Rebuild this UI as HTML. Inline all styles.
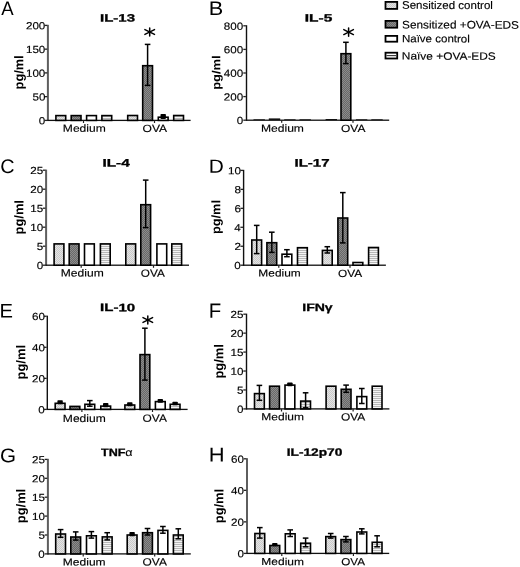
<!DOCTYPE html>
<html><head><meta charset="utf-8"><title>Cytokine panels</title>
<style>html,body{margin:0;padding:0;background:#fff;}body{width:520px;height:567px;overflow:hidden;font-family:"Liberation Sans", sans-serif;}svg{display:block;will-change:transform;filter:blur(0.3px);}</style></head>
<body>
<svg width="520" height="567" viewBox="0 0 520 567" font-family='"Liberation Sans", sans-serif'>
<defs>
<pattern id="p1" width="2" height="2" patternUnits="userSpaceOnUse"><rect width="2" height="2" fill="#e4e4e4"/><rect width="1" height="1" fill="#c9c9c9"/><rect x="1" y="1" width="1" height="1" fill="#c9c9c9"/></pattern>
<pattern id="p2" width="2" height="2" patternUnits="userSpaceOnUse"><rect width="2" height="2" fill="#686868"/><rect width="1" height="1" fill="#8c8c8c"/><rect x="1" y="1" width="1" height="1" fill="#8c8c8c"/></pattern>
<pattern id="p4" width="2" height="2" patternUnits="userSpaceOnUse"><rect width="2" height="2" fill="#f4f4f4"/><rect width="2" height="1" fill="#b8b8b8"/></pattern>
</defs>
<text transform="translate(1.25,15) rotate(0.08) scale(0.9487,1)" font-size="19.57" font-weight="400" fill="#000" >A</text>
<text transform="translate(100.05,21.5) rotate(0.08) scale(1.4157,1)" font-size="10.58" font-weight="700" fill="#000" stroke="#000" stroke-width="0.3">IL-13</text>
<rect x="46.9" y="24.8" width="2" height="96.2" fill="#5e5e5e"/>
<rect x="44.7" y="119.75" width="2.6" height="1.3" fill="#222"/>
<text transform="translate(38.84,124.25) rotate(0.08) scale(1.1324,1)" font-size="10.29" font-weight="400" fill="#000" stroke="#000" stroke-width="0.15">0</text>
<rect x="44.7" y="96" width="2.6" height="1.3" fill="#222"/>
<text transform="translate(32.44,100.5) rotate(0.08) scale(1.1324,1)" font-size="10.29" font-weight="400" fill="#000" stroke="#000" stroke-width="0.15">50</text>
<rect x="44.7" y="72.25" width="2.6" height="1.3" fill="#222"/>
<text transform="translate(25.91,76.75) rotate(0.08) scale(1.1324,1)" font-size="10.29" font-weight="400" fill="#000" stroke="#000" stroke-width="0.15">100</text>
<rect x="44.7" y="48.5" width="2.6" height="1.3" fill="#222"/>
<text transform="translate(25.91,53) rotate(0.08) scale(1.1324,1)" font-size="10.29" font-weight="400" fill="#000" stroke="#000" stroke-width="0.15">150</text>
<rect x="44.7" y="24.75" width="2.6" height="1.3" fill="#222"/>
<text transform="translate(25.91,29.25) rotate(0.08) scale(1.1324,1)" font-size="10.29" font-weight="400" fill="#000" stroke="#000" stroke-width="0.15">200</text>
<rect x="47.2" y="119.75" width="143.4" height="1.3" fill="#111"/>
<rect x="82.9" y="120.4" width="1.2" height="2.6" fill="#222"/>
<rect x="153.9" y="120.4" width="1.2" height="2.6" fill="#222"/>
<rect x="55.9" y="115.6" width="9.8" height="4.8" fill="url(#p1)" stroke="#000" stroke-width="1.6"/>
<rect x="71.2" y="115.6" width="9.8" height="4.8" fill="url(#p2)" stroke="#000" stroke-width="1.6"/>
<rect x="86.6" y="115.6" width="9.8" height="4.8" fill="#fff" stroke="#000" stroke-width="1.6"/>
<rect x="101.9" y="115.6" width="9.8" height="4.8" fill="url(#p4)" stroke="#000" stroke-width="1.6"/>
<rect x="127.7" y="115.5" width="9.8" height="4.9" fill="url(#p1)" stroke="#000" stroke-width="1.6"/>
<rect x="142.7" y="65.7" width="9.8" height="54.7" fill="url(#p2)" stroke="#000" stroke-width="1.6"/>
<rect x="158.3" y="117.2" width="9.8" height="3.2" fill="#fff" stroke="#000" stroke-width="1.6"/>
<rect x="173.7" y="115.5" width="9.8" height="4.9" fill="url(#p4)" stroke="#000" stroke-width="1.6"/>
<g stroke="#000" stroke-width="1.5"><line x1="147.6" y1="44.4" x2="147.6" y2="85.4"/><line x1="144.8" y1="44.4" x2="150.4" y2="44.4"/><line x1="144.8" y1="85.4" x2="150.4" y2="85.4"/></g>
<rect x="160.5" y="114" width="5.4" height="5" rx="0.8" fill="#000"/>
<text transform="translate(62.83,131.7) rotate(0.08) scale(1.1742,1)" font-size="10.29" font-weight="400" fill="#000" stroke="#000" stroke-width="0.15">Medium</text>
<text transform="translate(142.6,132.1) rotate(0.08) scale(1.1568,1)" font-size="10.43" font-weight="400" fill="#000" stroke="#000" stroke-width="0.15">OVA</text>
<g stroke="#000" stroke-width="1.5" stroke-linecap="round"><line x1="149.7" y1="27.9" x2="149.7" y2="36.1"/><line x1="144.9" y1="29.55" x2="154.5" y2="34.45"/><line x1="144.9" y1="34.45" x2="154.5" y2="29.55"/></g>
<text transform="translate(23.14,89.39) rotate(-89.92) scale(1.0093,1)" font-size="12.66" font-weight="700" fill="#000">pg/ml</text>
<text transform="translate(208.66,15.1) rotate(0.08) scale(1.1009,1)" font-size="19.71" font-weight="400" fill="#000" >B</text>
<text transform="translate(304.71,21.5) rotate(0.08) scale(1.4684,1)" font-size="10.58" font-weight="700" fill="#000" stroke="#000" stroke-width="0.3">IL-5</text>
<rect x="245.8" y="25.2" width="1.4" height="95.6" fill="#111"/>
<rect x="243.3" y="119.55" width="2.6" height="1.3" fill="#222"/>
<text transform="translate(236.64,124.05) rotate(0.08) scale(1.1324,1)" font-size="10.29" font-weight="400" fill="#000" stroke="#000" stroke-width="0.15">0</text>
<rect x="243.3" y="95.95" width="2.6" height="1.3" fill="#222"/>
<text transform="translate(223.71,100.45) rotate(0.08) scale(1.1324,1)" font-size="10.29" font-weight="400" fill="#000" stroke="#000" stroke-width="0.15">200</text>
<rect x="243.3" y="72.35" width="2.6" height="1.3" fill="#222"/>
<text transform="translate(223.71,76.85) rotate(0.08) scale(1.1324,1)" font-size="10.29" font-weight="400" fill="#000" stroke="#000" stroke-width="0.15">400</text>
<rect x="243.3" y="48.75" width="2.6" height="1.3" fill="#222"/>
<text transform="translate(223.71,53.25) rotate(0.08) scale(1.1324,1)" font-size="10.29" font-weight="400" fill="#000" stroke="#000" stroke-width="0.15">600</text>
<rect x="243.3" y="25.15" width="2.6" height="1.3" fill="#222"/>
<text transform="translate(223.71,29.65) rotate(0.08) scale(1.1324,1)" font-size="10.29" font-weight="400" fill="#000" stroke="#000" stroke-width="0.15">800</text>
<rect x="245.8" y="119.55" width="143.4" height="1.3" fill="#111"/>
<rect x="281.1" y="120.2" width="1.2" height="2.6" fill="#222"/>
<rect x="352.4" y="120.2" width="1.2" height="2.6" fill="#222"/>
<rect x="253.5" y="119.3" width="11.4" height="0.9" fill="#111"/>
<rect x="268.8" y="118.4" width="11.4" height="1.8" fill="#111"/>
<rect x="284.2" y="119.3" width="11.4" height="0.9" fill="#111"/>
<rect x="299.5" y="119.3" width="11.4" height="0.9" fill="#111"/>
<rect x="325.6" y="119" width="11.4" height="1.2" fill="#111"/>
<rect x="341" y="53.7" width="9.8" height="66.5" fill="url(#p2)" stroke="#000" stroke-width="1.6"/>
<rect x="355.9" y="119.3" width="11.4" height="0.9" fill="#111"/>
<rect x="371.3" y="119.3" width="11.4" height="0.9" fill="#111"/>
<g stroke="#000" stroke-width="1.5"><line x1="345.9" y1="42.3" x2="345.9" y2="63.6"/><line x1="343.1" y1="42.3" x2="348.7" y2="42.3"/><line x1="343.1" y1="63.6" x2="348.7" y2="63.6"/></g>
<text transform="translate(260.93,131.7) rotate(0.08) scale(1.1770,1)" font-size="10.29" font-weight="400" fill="#000" stroke="#000" stroke-width="0.15">Medium</text>
<text transform="translate(341,132.1) rotate(0.08) scale(1.1471,1)" font-size="10.43" font-weight="400" fill="#000" stroke="#000" stroke-width="0.15">OVA</text>
<g stroke="#000" stroke-width="1.5" stroke-linecap="round"><line x1="348.6" y1="28" x2="348.6" y2="36.2"/><line x1="343.8" y1="29.65" x2="353.4" y2="34.55"/><line x1="343.8" y1="34.55" x2="353.4" y2="29.65"/></g>
<text transform="translate(220.16,89.81) rotate(-89.92) scale(1.1156,1)" font-size="11.6" font-weight="700" fill="#000">pg/ml</text>
<text transform="translate(0.26,173.1) rotate(0.08) scale(1.0138,1)" font-size="19.57" font-weight="400" fill="#000" >C</text>
<text transform="translate(102.43,166.4) rotate(0.08) scale(1.4125,1)" font-size="10.87" font-weight="700" fill="#000" stroke="#000" stroke-width="0.3">IL-4</text>
<rect x="45.1" y="169.6" width="2" height="96.2" fill="#5e5e5e"/>
<rect x="42.9" y="264.55" width="2.6" height="1.3" fill="#222"/>
<text transform="translate(36.74,269.05) rotate(0.08) scale(1.1324,1)" font-size="10.29" font-weight="400" fill="#000" stroke="#000" stroke-width="0.15">0</text>
<rect x="42.9" y="245.55" width="2.6" height="1.3" fill="#222"/>
<text transform="translate(36.86,250.05) rotate(0.08) scale(1.1324,1)" font-size="10.29" font-weight="400" fill="#000" stroke="#000" stroke-width="0.15">5</text>
<rect x="42.9" y="226.55" width="2.6" height="1.3" fill="#222"/>
<text transform="translate(30.34,231.05) rotate(0.08) scale(1.1324,1)" font-size="10.29" font-weight="400" fill="#000" stroke="#000" stroke-width="0.15">10</text>
<rect x="42.9" y="207.55" width="2.6" height="1.3" fill="#222"/>
<text transform="translate(30.34,212.05) rotate(0.08) scale(1.1324,1)" font-size="10.29" font-weight="400" fill="#000" stroke="#000" stroke-width="0.15">15</text>
<rect x="42.9" y="188.55" width="2.6" height="1.3" fill="#222"/>
<text transform="translate(30.34,193.05) rotate(0.08) scale(1.1324,1)" font-size="10.29" font-weight="400" fill="#000" stroke="#000" stroke-width="0.15">20</text>
<rect x="42.9" y="169.55" width="2.6" height="1.3" fill="#222"/>
<text transform="translate(30.34,174.05) rotate(0.08) scale(1.1324,1)" font-size="10.29" font-weight="400" fill="#000" stroke="#000" stroke-width="0.15">25</text>
<rect x="45.4" y="264.55" width="143.6" height="1.3" fill="#111"/>
<rect x="80.6" y="265.2" width="1.2" height="2.6" fill="#222"/>
<rect x="152.9" y="265.2" width="1.2" height="2.6" fill="#222"/>
<rect x="54.1" y="243.9" width="9.8" height="21.3" fill="url(#p1)" stroke="#000" stroke-width="1.6"/>
<rect x="69.2" y="243.9" width="9.8" height="21.3" fill="url(#p2)" stroke="#000" stroke-width="1.6"/>
<rect x="84.5" y="243.9" width="9.8" height="21.3" fill="#fff" stroke="#000" stroke-width="1.6"/>
<rect x="100.4" y="243.9" width="9.8" height="21.3" fill="url(#p4)" stroke="#000" stroke-width="1.6"/>
<rect x="125.8" y="243.9" width="9.8" height="21.3" fill="url(#p1)" stroke="#000" stroke-width="1.6"/>
<rect x="140.8" y="204.7" width="9.8" height="60.5" fill="url(#p2)" stroke="#000" stroke-width="1.6"/>
<rect x="156.9" y="243.9" width="9.8" height="21.3" fill="#fff" stroke="#000" stroke-width="1.6"/>
<rect x="171.8" y="243.9" width="9.8" height="21.3" fill="url(#p4)" stroke="#000" stroke-width="1.6"/>
<g stroke="#000" stroke-width="1.5"><line x1="145.7" y1="180.1" x2="145.7" y2="227.6"/><line x1="142.9" y1="180.1" x2="148.5" y2="180.1"/><line x1="142.9" y1="227.6" x2="148.5" y2="227.6"/></g>
<text transform="translate(60.83,276.5) rotate(0.08) scale(1.1579,1)" font-size="10.43" font-weight="400" fill="#000" stroke="#000" stroke-width="0.15">Medium</text>
<text transform="translate(140.81,276.7) rotate(0.08) scale(1.1277,1)" font-size="10.43" font-weight="400" fill="#000" stroke="#000" stroke-width="0.15">OVA</text>
<text transform="translate(23.34,234.4) rotate(-89.92) scale(1.0187,1)" font-size="12.66" font-weight="700" fill="#000">pg/ml</text>
<text transform="translate(208.73,172.7) rotate(0.08) scale(1.0981,1)" font-size="18.99" font-weight="400" fill="#000" >D</text>
<text transform="translate(294.45,166.4) rotate(0.08) scale(1.3841,1)" font-size="10.87" font-weight="700" fill="#000" stroke="#000" stroke-width="0.3">IL-17</text>
<rect x="242.9" y="169.8" width="1.4" height="96" fill="#111"/>
<rect x="240.4" y="264.55" width="2.6" height="1.3" fill="#222"/>
<text transform="translate(234.34,269.05) rotate(0.08) scale(1.1324,1)" font-size="10.29" font-weight="400" fill="#000" stroke="#000" stroke-width="0.15">0</text>
<rect x="240.4" y="245.59" width="2.6" height="1.3" fill="#222"/>
<text transform="translate(234.46,250.09) rotate(0.08) scale(1.1324,1)" font-size="10.29" font-weight="400" fill="#000" stroke="#000" stroke-width="0.15">2</text>
<rect x="240.4" y="226.63" width="2.6" height="1.3" fill="#222"/>
<text transform="translate(234.23,231.13) rotate(0.08) scale(1.1324,1)" font-size="10.29" font-weight="400" fill="#000" stroke="#000" stroke-width="0.15">4</text>
<rect x="240.4" y="207.67" width="2.6" height="1.3" fill="#222"/>
<text transform="translate(234.46,212.17) rotate(0.08) scale(1.1324,1)" font-size="10.29" font-weight="400" fill="#000" stroke="#000" stroke-width="0.15">6</text>
<rect x="240.4" y="188.71" width="2.6" height="1.3" fill="#222"/>
<text transform="translate(234.46,193.21) rotate(0.08) scale(1.1324,1)" font-size="10.29" font-weight="400" fill="#000" stroke="#000" stroke-width="0.15">8</text>
<rect x="240.4" y="169.75" width="2.6" height="1.3" fill="#222"/>
<text transform="translate(227.94,174.25) rotate(0.08) scale(1.1324,1)" font-size="10.29" font-weight="400" fill="#000" stroke="#000" stroke-width="0.15">10</text>
<rect x="242.9" y="264.55" width="143" height="1.3" fill="#111"/>
<rect x="278.2" y="265.2" width="1.2" height="2.6" fill="#222"/>
<rect x="349.4" y="265.2" width="1.2" height="2.6" fill="#222"/>
<rect x="251.8" y="240" width="9.8" height="25.2" fill="url(#p1)" stroke="#000" stroke-width="1.6"/>
<rect x="266.9" y="242.7" width="9.8" height="22.5" fill="url(#p2)" stroke="#000" stroke-width="1.6"/>
<rect x="282" y="254.2" width="9.8" height="11" fill="#fff" stroke="#000" stroke-width="1.6"/>
<rect x="297.5" y="247.7" width="9.8" height="17.5" fill="url(#p4)" stroke="#000" stroke-width="1.6"/>
<rect x="322.4" y="250.4" width="9.8" height="14.8" fill="url(#p1)" stroke="#000" stroke-width="1.6"/>
<rect x="337.9" y="218" width="9.8" height="47.2" fill="url(#p2)" stroke="#000" stroke-width="1.6"/>
<rect x="353" y="262.5" width="9.8" height="2.7" fill="#fff" stroke="#000" stroke-width="1.6"/>
<rect x="368.6" y="247.5" width="9.8" height="17.7" fill="url(#p4)" stroke="#000" stroke-width="1.6"/>
<g stroke="#000" stroke-width="1.5"><line x1="256.7" y1="225.4" x2="256.7" y2="253.6"/><line x1="253.9" y1="225.4" x2="259.5" y2="225.4"/><line x1="253.9" y1="253.6" x2="259.5" y2="253.6"/></g>
<g stroke="#000" stroke-width="1.5"><line x1="271.8" y1="232.2" x2="271.8" y2="252.4"/><line x1="269" y1="232.2" x2="274.6" y2="232.2"/><line x1="269" y1="252.4" x2="274.6" y2="252.4"/></g>
<g stroke="#000" stroke-width="1.5"><line x1="286.9" y1="249.7" x2="286.9" y2="256.7"/><line x1="284.1" y1="249.7" x2="289.7" y2="249.7"/><line x1="284.1" y1="256.7" x2="289.7" y2="256.7"/></g>
<g stroke="#000" stroke-width="1.5"><line x1="327.3" y1="246.7" x2="327.3" y2="253"/><line x1="324.5" y1="246.7" x2="330.1" y2="246.7"/><line x1="324.5" y1="253" x2="330.1" y2="253"/></g>
<g stroke="#000" stroke-width="1.5"><line x1="342.8" y1="192.6" x2="342.8" y2="242.9"/><line x1="340" y1="192.6" x2="345.6" y2="192.6"/><line x1="340" y1="242.9" x2="345.6" y2="242.9"/></g>
<text transform="translate(258.35,276.5) rotate(0.08) scale(1.1765,1)" font-size="10.14" font-weight="400" fill="#000" stroke="#000" stroke-width="0.15">Medium</text>
<text transform="translate(337.91,277) rotate(0.08) scale(1.1374,1)" font-size="10.43" font-weight="400" fill="#000" stroke="#000" stroke-width="0.15">OVA</text>
<text transform="translate(220.31,233.99) rotate(-89.92) scale(1.0322,1)" font-size="12.34" font-weight="700" fill="#000">pg/ml</text>
<text transform="translate(-0.61,317.5) rotate(0.08) scale(1.0317,1)" font-size="19.57" font-weight="400" fill="#000" >E</text>
<text transform="translate(100.05,311.1) rotate(0.08) scale(1.3841,1)" font-size="10.87" font-weight="700" fill="#000" stroke="#000" stroke-width="0.3">IL-10</text>
<rect x="46.6" y="315.65" width="1.4" height="94.35" fill="#111"/>
<rect x="44.1" y="408.75" width="2.6" height="1.3" fill="#222"/>
<text transform="translate(38.34,413.25) rotate(0.08) scale(1.1324,1)" font-size="10.29" font-weight="400" fill="#000" stroke="#000" stroke-width="0.15">0</text>
<rect x="44.1" y="377.7" width="2.6" height="1.3" fill="#222"/>
<text transform="translate(31.94,382.2) rotate(0.08) scale(1.1324,1)" font-size="10.29" font-weight="400" fill="#000" stroke="#000" stroke-width="0.15">20</text>
<rect x="44.1" y="346.65" width="2.6" height="1.3" fill="#222"/>
<text transform="translate(31.94,351.15) rotate(0.08) scale(1.1324,1)" font-size="10.29" font-weight="400" fill="#000" stroke="#000" stroke-width="0.15">40</text>
<rect x="44.1" y="315.6" width="2.6" height="1.3" fill="#222"/>
<text transform="translate(31.94,320.1) rotate(0.08) scale(1.1324,1)" font-size="10.29" font-weight="400" fill="#000" stroke="#000" stroke-width="0.15">60</text>
<rect x="46.6" y="408.75" width="141" height="1.3" fill="#111"/>
<rect x="81.3" y="409.4" width="1.2" height="2.6" fill="#222"/>
<rect x="151.9" y="409.4" width="1.2" height="2.6" fill="#222"/>
<rect x="55.2" y="403.3" width="9.8" height="6.1" fill="url(#p1)" stroke="#000" stroke-width="1.6"/>
<rect x="70" y="406.4" width="9.8" height="3" fill="url(#p2)" stroke="#000" stroke-width="1.6"/>
<rect x="84.9" y="404.3" width="9.8" height="5.1" fill="#fff" stroke="#000" stroke-width="1.6"/>
<rect x="100.8" y="406.1" width="9.8" height="3.3" fill="url(#p4)" stroke="#000" stroke-width="1.6"/>
<rect x="124.9" y="405" width="9.8" height="4.4" fill="url(#p1)" stroke="#000" stroke-width="1.6"/>
<rect x="140" y="354.6" width="9.8" height="54.8" fill="url(#p2)" stroke="#000" stroke-width="1.6"/>
<rect x="155.4" y="401.6" width="9.8" height="7.8" fill="#fff" stroke="#000" stroke-width="1.6"/>
<rect x="170.2" y="404.3" width="9.8" height="5.1" fill="url(#p4)" stroke="#000" stroke-width="1.6"/>
<rect x="57.4" y="400.3" width="5.4" height="3.9" rx="0.8" fill="#000"/>
<g stroke="#000" stroke-width="1.5"><line x1="89.8" y1="400.6" x2="89.8" y2="406.2"/><line x1="87" y1="400.6" x2="92.6" y2="400.6"/><line x1="87" y1="406.2" x2="92.6" y2="406.2"/></g>
<rect x="103" y="402.9" width="5.4" height="4.3" rx="0.8" fill="#000"/>
<rect x="127.1" y="402.3" width="5.4" height="3.9" rx="0.8" fill="#000"/>
<g stroke="#000" stroke-width="1.5"><line x1="144.9" y1="328.2" x2="144.9" y2="380.1"/><line x1="142.1" y1="328.2" x2="147.7" y2="328.2"/><line x1="142.1" y1="380.1" x2="147.7" y2="380.1"/></g>
<rect x="157.6" y="398.9" width="5.4" height="3.8" rx="0.8" fill="#000"/>
<rect x="172.4" y="401.7" width="5.4" height="3.6" rx="0.8" fill="#000"/>
<text transform="translate(62.83,421.9) rotate(0.08) scale(1.1420,1)" font-size="10.58" font-weight="400" fill="#000" stroke="#000" stroke-width="0.15">Medium</text>
<text transform="translate(142.6,421.8) rotate(0.08) scale(1.1423,1)" font-size="10.43" font-weight="400" fill="#000" stroke="#000" stroke-width="0.15">OVA</text>
<g stroke="#000" stroke-width="1.5" stroke-linecap="round"><line x1="147.8" y1="315.9" x2="147.8" y2="324.1"/><line x1="143" y1="317.55" x2="152.6" y2="322.45"/><line x1="143" y1="322.45" x2="152.6" y2="317.55"/></g>
<text transform="translate(25.32,379.4) rotate(-89.92) scale(1.0103,1)" font-size="12.77" font-weight="700" fill="#000">pg/ml</text>
<text transform="translate(208.77,317.7) rotate(0.08) scale(0.9917,1)" font-size="20.58" font-weight="400" fill="#000" >F</text>
<text transform="translate(302.22,311) rotate(0.08) scale(1.3117,1)" font-size="10.72" font-weight="700" fill="#000" stroke="#000" stroke-width="0.3">IFNγ</text>
<rect x="245.8" y="313.6" width="1.4" height="95.9" fill="#111"/>
<rect x="243.3" y="408.25" width="2.6" height="1.3" fill="#222"/>
<text transform="translate(236.94,412.75) rotate(0.08) scale(1.1324,1)" font-size="10.29" font-weight="400" fill="#000" stroke="#000" stroke-width="0.15">0</text>
<rect x="243.3" y="389.31" width="2.6" height="1.3" fill="#222"/>
<text transform="translate(237.06,393.81) rotate(0.08) scale(1.1324,1)" font-size="10.29" font-weight="400" fill="#000" stroke="#000" stroke-width="0.15">5</text>
<rect x="243.3" y="370.37" width="2.6" height="1.3" fill="#222"/>
<text transform="translate(230.54,374.87) rotate(0.08) scale(1.1324,1)" font-size="10.29" font-weight="400" fill="#000" stroke="#000" stroke-width="0.15">10</text>
<rect x="243.3" y="351.43" width="2.6" height="1.3" fill="#222"/>
<text transform="translate(230.54,355.93) rotate(0.08) scale(1.1324,1)" font-size="10.29" font-weight="400" fill="#000" stroke="#000" stroke-width="0.15">15</text>
<rect x="243.3" y="332.49" width="2.6" height="1.3" fill="#222"/>
<text transform="translate(230.54,336.99) rotate(0.08) scale(1.1324,1)" font-size="10.29" font-weight="400" fill="#000" stroke="#000" stroke-width="0.15">20</text>
<rect x="243.3" y="313.55" width="2.6" height="1.3" fill="#222"/>
<text transform="translate(230.54,318.05) rotate(0.08) scale(1.1324,1)" font-size="10.29" font-weight="400" fill="#000" stroke="#000" stroke-width="0.15">25</text>
<rect x="245.8" y="408.25" width="143.6" height="1.3" fill="#111"/>
<rect x="280.9" y="408.9" width="1.2" height="2.6" fill="#222"/>
<rect x="352.5" y="408.9" width="1.2" height="2.6" fill="#222"/>
<rect x="254.5" y="393.6" width="9.8" height="15.3" fill="url(#p1)" stroke="#000" stroke-width="1.6"/>
<rect x="269.6" y="386.2" width="9.8" height="22.7" fill="url(#p2)" stroke="#000" stroke-width="1.6"/>
<rect x="285" y="385.1" width="9.8" height="23.8" fill="#fff" stroke="#000" stroke-width="1.6"/>
<rect x="300.7" y="401.1" width="9.8" height="7.8" fill="url(#p4)" stroke="#000" stroke-width="1.6"/>
<rect x="326.1" y="386.2" width="9.8" height="22.7" fill="url(#p1)" stroke="#000" stroke-width="1.6"/>
<rect x="341.2" y="389.3" width="9.8" height="19.6" fill="url(#p2)" stroke="#000" stroke-width="1.6"/>
<rect x="356.9" y="396.6" width="9.8" height="12.3" fill="#fff" stroke="#000" stroke-width="1.6"/>
<rect x="372.2" y="386.2" width="9.8" height="22.7" fill="url(#p4)" stroke="#000" stroke-width="1.6"/>
<g stroke="#000" stroke-width="1.5"><line x1="259.4" y1="385.4" x2="259.4" y2="400.3"/><line x1="256.6" y1="385.4" x2="262.2" y2="385.4"/><line x1="256.6" y1="400.3" x2="262.2" y2="400.3"/></g>
<rect x="287.2" y="382.4" width="5.4" height="3.8" rx="0.8" fill="#000"/>
<g stroke="#000" stroke-width="1.5"><line x1="305.6" y1="392.8" x2="305.6" y2="407.8"/><line x1="302.8" y1="392.8" x2="308.4" y2="392.8"/><line x1="302.8" y1="407.8" x2="308.4" y2="407.8"/></g>
<g stroke="#000" stroke-width="1.5"><line x1="346.1" y1="385.1" x2="346.1" y2="392.3"/><line x1="343.3" y1="385.1" x2="348.9" y2="385.1"/><line x1="343.3" y1="392.3" x2="348.9" y2="392.3"/></g>
<g stroke="#000" stroke-width="1.5"><line x1="361.8" y1="388.5" x2="361.8" y2="403.5"/><line x1="359" y1="388.5" x2="364.6" y2="388.5"/><line x1="359" y1="403.5" x2="364.6" y2="403.5"/></g>
<text transform="translate(261.34,420.3) rotate(0.08) scale(1.1656,1)" font-size="10.29" font-weight="400" fill="#000" stroke="#000" stroke-width="0.15">Medium</text>
<text transform="translate(340.9,420.4) rotate(0.08) scale(1.1423,1)" font-size="10.43" font-weight="400" fill="#000" stroke="#000" stroke-width="0.15">OVA</text>
<text transform="translate(223.3,378.6) rotate(-89.92) scale(1.0019,1)" font-size="12.87" font-weight="700" fill="#000">pg/ml</text>
<text transform="translate(-0.03,462.25) rotate(0.08) scale(1.0495,1)" font-size="19.64" font-weight="400" fill="#000" >G</text>
<text transform="translate(100.97,455.9) rotate(0.08) scale(1.1710,1)" font-size="10.72" font-weight="700" fill="#000" stroke="#000" stroke-width="0.3">TNF<tspan font-weight="400" stroke-width="0.15">α</tspan></text>
<rect x="46.9" y="458.8" width="2" height="95.7" fill="#5e5e5e"/>
<rect x="44.7" y="553.25" width="2.6" height="1.3" fill="#222"/>
<text transform="translate(38.34,557.75) rotate(0.08) scale(1.1324,1)" font-size="10.29" font-weight="400" fill="#000" stroke="#000" stroke-width="0.15">0</text>
<rect x="44.7" y="534.35" width="2.6" height="1.3" fill="#222"/>
<text transform="translate(38.46,538.85) rotate(0.08) scale(1.1324,1)" font-size="10.29" font-weight="400" fill="#000" stroke="#000" stroke-width="0.15">5</text>
<rect x="44.7" y="515.45" width="2.6" height="1.3" fill="#222"/>
<text transform="translate(31.94,519.95) rotate(0.08) scale(1.1324,1)" font-size="10.29" font-weight="400" fill="#000" stroke="#000" stroke-width="0.15">10</text>
<rect x="44.7" y="496.55" width="2.6" height="1.3" fill="#222"/>
<text transform="translate(31.94,501.05) rotate(0.08) scale(1.1324,1)" font-size="10.29" font-weight="400" fill="#000" stroke="#000" stroke-width="0.15">15</text>
<rect x="44.7" y="477.65" width="2.6" height="1.3" fill="#222"/>
<text transform="translate(31.94,482.15) rotate(0.08) scale(1.1324,1)" font-size="10.29" font-weight="400" fill="#000" stroke="#000" stroke-width="0.15">20</text>
<rect x="44.7" y="458.75" width="2.6" height="1.3" fill="#222"/>
<text transform="translate(31.94,463.25) rotate(0.08) scale(1.1324,1)" font-size="10.29" font-weight="400" fill="#000" stroke="#000" stroke-width="0.15">25</text>
<rect x="47.2" y="553.25" width="143.6" height="1.3" fill="#111"/>
<rect x="82.6" y="553.9" width="1.2" height="2.6" fill="#222"/>
<rect x="154.1" y="553.9" width="1.2" height="2.6" fill="#222"/>
<rect x="55.7" y="534" width="9.8" height="19.9" fill="url(#p1)" stroke="#000" stroke-width="1.6"/>
<rect x="70.8" y="537" width="9.8" height="16.9" fill="url(#p2)" stroke="#000" stroke-width="1.6"/>
<rect x="86.5" y="535.8" width="9.8" height="18.1" fill="#fff" stroke="#000" stroke-width="1.6"/>
<rect x="102.3" y="536.9" width="9.8" height="17" fill="url(#p4)" stroke="#000" stroke-width="1.6"/>
<rect x="127.2" y="535" width="9.8" height="18.9" fill="url(#p1)" stroke="#000" stroke-width="1.6"/>
<rect x="142.6" y="532.7" width="9.8" height="21.2" fill="url(#p2)" stroke="#000" stroke-width="1.6"/>
<rect x="158" y="530.4" width="9.8" height="23.5" fill="#fff" stroke="#000" stroke-width="1.6"/>
<rect x="173.4" y="535" width="9.8" height="18.9" fill="url(#p4)" stroke="#000" stroke-width="1.6"/>
<g stroke="#000" stroke-width="1.5"><line x1="60.6" y1="529.6" x2="60.6" y2="537.3"/><line x1="57.8" y1="529.6" x2="63.4" y2="529.6"/><line x1="57.8" y1="537.3" x2="63.4" y2="537.3"/></g>
<g stroke="#000" stroke-width="1.5"><line x1="75.7" y1="531.9" x2="75.7" y2="540.1"/><line x1="72.9" y1="531.9" x2="78.5" y2="531.9"/><line x1="72.9" y1="540.1" x2="78.5" y2="540.1"/></g>
<g stroke="#000" stroke-width="1.5"><line x1="91.4" y1="531.6" x2="91.4" y2="538.1"/><line x1="88.6" y1="531.6" x2="94.2" y2="531.6"/><line x1="88.6" y1="538.1" x2="94.2" y2="538.1"/></g>
<g stroke="#000" stroke-width="1.5"><line x1="107.2" y1="532.7" x2="107.2" y2="539.9"/><line x1="104.4" y1="532.7" x2="110" y2="532.7"/><line x1="104.4" y1="539.9" x2="110" y2="539.9"/></g>
<rect x="129.4" y="532" width="5.4" height="4.2" rx="0.8" fill="#000"/>
<g stroke="#000" stroke-width="1.5"><line x1="147.5" y1="528.5" x2="147.5" y2="535"/><line x1="144.7" y1="528.5" x2="150.3" y2="528.5"/><line x1="144.7" y1="535" x2="150.3" y2="535"/></g>
<g stroke="#000" stroke-width="1.5"><line x1="162.9" y1="526.5" x2="162.9" y2="533.2"/><line x1="160.1" y1="526.5" x2="165.7" y2="526.5"/><line x1="160.1" y1="533.2" x2="165.7" y2="533.2"/></g>
<g stroke="#000" stroke-width="1.5"><line x1="178.3" y1="528.8" x2="178.3" y2="538.8"/><line x1="175.5" y1="528.8" x2="181.1" y2="528.8"/><line x1="175.5" y1="538.8" x2="181.1" y2="538.8"/></g>
<text transform="translate(62.84,565.5) rotate(0.08) scale(1.1881,1)" font-size="10.14" font-weight="400" fill="#000" stroke="#000" stroke-width="0.15">Medium</text>
<text transform="translate(142.6,565.4) rotate(0.08) scale(1.1423,1)" font-size="10.43" font-weight="400" fill="#000" stroke="#000" stroke-width="0.15">OVA</text>
<text transform="translate(25.32,523.2) rotate(-89.92) scale(1.0103,1)" font-size="12.77" font-weight="700" fill="#000">pg/ml</text>
<text transform="translate(208.64,461.5) rotate(0.08) scale(1.0982,1)" font-size="20" font-weight="400" fill="#000" >H</text>
<text transform="translate(286.74,455.8) rotate(0.08) scale(1.2803,1)" font-size="10.72" font-weight="700" fill="#000" stroke="#000" stroke-width="0.3">IL-12p70</text>
<rect x="246" y="458.2" width="2" height="95.8" fill="#5e5e5e"/>
<rect x="243.8" y="552.75" width="2.6" height="1.3" fill="#222"/>
<text transform="translate(237.44,557.25) rotate(0.08) scale(1.1324,1)" font-size="10.29" font-weight="400" fill="#000" stroke="#000" stroke-width="0.15">0</text>
<rect x="243.8" y="521.22" width="2.6" height="1.3" fill="#222"/>
<text transform="translate(231.04,525.72) rotate(0.08) scale(1.1324,1)" font-size="10.29" font-weight="400" fill="#000" stroke="#000" stroke-width="0.15">20</text>
<rect x="243.8" y="489.68" width="2.6" height="1.3" fill="#222"/>
<text transform="translate(231.04,494.18) rotate(0.08) scale(1.1324,1)" font-size="10.29" font-weight="400" fill="#000" stroke="#000" stroke-width="0.15">40</text>
<rect x="243.8" y="458.15" width="2.6" height="1.3" fill="#222"/>
<text transform="translate(231.04,462.65) rotate(0.08) scale(1.1324,1)" font-size="10.29" font-weight="400" fill="#000" stroke="#000" stroke-width="0.15">60</text>
<rect x="246.3" y="552.75" width="142.9" height="1.3" fill="#111"/>
<rect x="281.2" y="553.4" width="1.2" height="2.6" fill="#222"/>
<rect x="352.8" y="553.4" width="1.2" height="2.6" fill="#222"/>
<rect x="254.9" y="533.5" width="9.8" height="19.9" fill="url(#p1)" stroke="#000" stroke-width="1.6"/>
<rect x="269.9" y="545.5" width="9.8" height="7.9" fill="url(#p2)" stroke="#000" stroke-width="1.6"/>
<rect x="285.3" y="533.8" width="9.8" height="19.6" fill="#fff" stroke="#000" stroke-width="1.6"/>
<rect x="300.7" y="543.2" width="9.8" height="10.2" fill="url(#p4)" stroke="#000" stroke-width="1.6"/>
<rect x="325.8" y="536.6" width="9.8" height="16.8" fill="url(#p1)" stroke="#000" stroke-width="1.6"/>
<rect x="341" y="539.6" width="9.8" height="13.8" fill="url(#p2)" stroke="#000" stroke-width="1.6"/>
<rect x="356.9" y="532" width="9.8" height="21.4" fill="#fff" stroke="#000" stroke-width="1.6"/>
<rect x="372.2" y="542.3" width="9.8" height="11.1" fill="url(#p4)" stroke="#000" stroke-width="1.6"/>
<g stroke="#000" stroke-width="1.5"><line x1="259.8" y1="527.6" x2="259.8" y2="538.1"/><line x1="257" y1="527.6" x2="262.6" y2="527.6"/><line x1="257" y1="538.1" x2="262.6" y2="538.1"/></g>
<rect x="272.1" y="543.1" width="5.4" height="3.2" rx="0.8" fill="#000"/>
<g stroke="#000" stroke-width="1.5"><line x1="290.2" y1="529.9" x2="290.2" y2="536.5"/><line x1="287.4" y1="529.9" x2="293" y2="529.9"/><line x1="287.4" y1="536.5" x2="293" y2="536.5"/></g>
<g stroke="#000" stroke-width="1.5"><line x1="305.6" y1="538.1" x2="305.6" y2="546.8"/><line x1="302.8" y1="538.1" x2="308.4" y2="538.1"/><line x1="302.8" y1="546.8" x2="308.4" y2="546.8"/></g>
<g stroke="#000" stroke-width="1.5"><line x1="330.7" y1="533.5" x2="330.7" y2="538.1"/><line x1="327.9" y1="533.5" x2="333.5" y2="533.5"/><line x1="327.9" y1="538.1" x2="333.5" y2="538.1"/></g>
<g stroke="#000" stroke-width="1.5"><line x1="345.9" y1="536.5" x2="345.9" y2="541.9"/><line x1="343.1" y1="536.5" x2="348.7" y2="536.5"/><line x1="343.1" y1="541.9" x2="348.7" y2="541.9"/></g>
<g stroke="#000" stroke-width="1.5"><line x1="361.8" y1="528.8" x2="361.8" y2="533.9"/><line x1="359" y1="528.8" x2="364.6" y2="528.8"/><line x1="359" y1="533.9" x2="364.6" y2="533.9"/></g>
<g stroke="#000" stroke-width="1.5"><line x1="377.1" y1="535.8" x2="377.1" y2="546.8"/><line x1="374.3" y1="535.8" x2="379.9" y2="535.8"/><line x1="374.3" y1="546.8" x2="379.9" y2="546.8"/></g>
<text transform="translate(261.34,565.1) rotate(0.08) scale(1.1823,1)" font-size="10.14" font-weight="400" fill="#000" stroke="#000" stroke-width="0.15">Medium</text>
<text transform="translate(341.22,565.2) rotate(0.08) scale(1.1338,1)" font-size="10.29" font-weight="400" fill="#000" stroke="#000" stroke-width="0.15">OVA</text>
<text transform="translate(223.34,523.2) rotate(-89.92) scale(1.0187,1)" font-size="12.66" font-weight="700" fill="#000">pg/ml</text>
<rect x="385.5" y="1.9" width="11.7" height="7" fill="url(#p1)" stroke="#000" stroke-width="1.8"/>
<text transform="translate(402.02,8.85) rotate(0.08) scale(1.0481,1)" font-size="11" font-weight="400" fill="#000" stroke="#000" stroke-width="0.15">Sensitized control</text>
<rect x="385.5" y="20.9" width="11.7" height="6.8" fill="url(#p2)" stroke="#000" stroke-width="1.8"/>
<text transform="translate(402.01,28.5) rotate(0.08) scale(1.0740,1)" font-size="11" font-weight="400" fill="#000" stroke="#000" stroke-width="0.15">Sensitized +OVA-EDS</text>
<rect x="385.5" y="35.9" width="11.7" height="5.8" fill="#fff" stroke="#000" stroke-width="1.8"/>
<text transform="translate(401.88,42.3) rotate(0.08) scale(1.0915,1)" font-size="10.58" font-weight="400" fill="#000" stroke="#000" stroke-width="0.15">Naïve control</text>
<rect x="385.5" y="52.7" width="11.7" height="5.8" fill="#fff" stroke="#000" stroke-width="1.8"/>
<rect x="386.4" y="55.05" width="9.9" height="1.1" fill="#333"/>
<text transform="translate(401.85,59.6) rotate(0.08) scale(1.1250,1)" font-size="10.58" font-weight="400" fill="#000" stroke="#000" stroke-width="0.15">Naïve +OVA-EDS</text>
</svg>
</body></html>
